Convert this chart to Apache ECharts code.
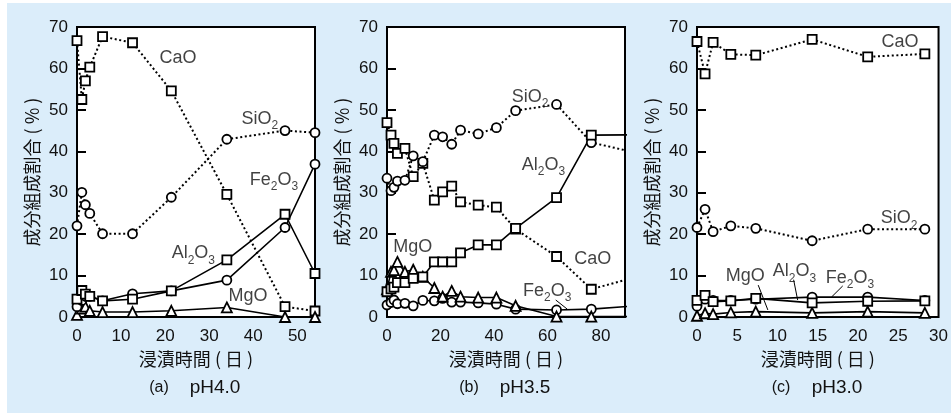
<!DOCTYPE html>
<html>
<head>
<meta charset="utf-8">
<script src="https://cdn.jsdelivr.net/npm/echarts@6/dist/echarts.min.js"></script>
<style>
  html, body { margin: 0; padding: 0; background: #ffffff; }
  #bg { position: absolute; left: 7px; top: 3px; width: 944px; height: 410px; background: #dbedfa; }
  #chart { position: absolute; left: 0; top: 0; width: 951px; height: 413px; }
</style>
</head>
<body>
<div id="bg"></div>
<div id="chart"></div>
<script>
// ---- (a) pH4.0 ----
const daysA  = [0, 1.1, 1.9, 2.9, 5.8, 12.6, 21.4, 34.0, 47.2, 54];
const caoA   = [66.7, 52.5, 57.0, 60.3, 67.7, 66.2, 54.6, 29.6, 2.5, 1.45];
const sio2A  = [22.0, 30.1, 27.1, 25.0, 20.1, 20.1, 28.9, 42.9, 45.0, 44.5];
const fe2o3A = [2.5, 4.0, 5.0, 5.0, 3.9, 5.6, 6.3, 8.9, 21.6, 36.9];
const al2o3A = [4.3, 6.4, 5.5, 5.0, 3.9, 4.3, 6.3, 13.8, 24.8, 10.5];
const mgoA   = [0.5, 2.0, 2.5, 1.5, 1.2, 1.2, 1.5, 2.3, 0, 0];

// ---- (b) pH3.5 ----
const daysB  = [0, 1.5, 2.6, 3.9, 6.7, 9.8, 13.4, 17.7, 20.8, 24.2, 27.5, 34.1, 40.9, 48.1, 63.4, 76.4, 95];
const caoB   = [46.9, 43.9, 41.9, 39.5, 40.7, 33.9, 37.1, 28.2, 30.2, 31.6, 27.8, 27.0, 26.5, 21.2, 14.6, 6.7, 10.0];
const sio2B  = [33.5, 30.5, 31.3, 32.8, 33.0, 38.9, 37.5, 43.9, 43.5, 41.7, 45.1, 44.2, 45.7, 49.8, 51.3, 42.1, 39.4];
const al2o3B = [6.1, 6.8, 7.2, 8.3, 8.3, 9.3, 9.7, 13.3, 13.3, 13.3, 15.5, 17.4, 17.4, 21.4, 28.8, 43.9, 44.0];
const mgoB   = [6.7, 10.9, 11.3, 13.3, 10.9, 11.4, 9.7, 7.0, 4.9, 6.3, 4.9, 4.7, 4.7, 2.7, 0.1, 0.1, 0.1];
const fe2o3B = [2.9, 3.5, 4.1, 3.2, 3.3, 2.7, 4.0, 3.9, 4.5, 3.6, 3.6, 3.4, 3.1, 1.9, 1.7, 1.9, 2.8];

// ---- (c) pH3.0 ----
const daysC  = [0, 1, 2, 4.2, 7.3, 14.3, 21.2, 28.3];
const caoC   = [66.5, 58.7, 66.3, 63.4, 63.2, 67.0, 62.8, 63.5];
const sio2C  = [21.6, 26.0, 20.6, 22.0, 21.4, 18.4, 21.2, 21.2];
const al2o3C = [4.0, 5.2, 3.7, 3.9, 4.5, 3.4, 3.8, 3.9];
const fe2o3C = [2.6, 4.3, 4.0, 4.0, 4.3, 4.8, 4.8, 4.0];
const mgoC   = [0.3, 0.9, 0.7, 1.1, 1.3, 1.0, 1.3, 1.0];

// axis extents and ticks
const xMax = [54, 89, 30];
const xStep = [10, 20, 5];
const yTicks = [0, 10, 20, 30, 40, 50, 60, 70];
const captions = [['(a)', 'pH4.0'], ['(b)', 'pH3.5'], ['(c)', 'pH3.0']];

const FONT = "'Liberation Sans','Noto Sans CJK JP',sans-serif";
const CJK = "'Noto Sans CJK JP','Liberation Sans',sans-serif";

const grids = [
  { left: 77, top: 27, width: 238, height: 290 },
  { left: 387, top: 27, width: 238, height: 290 },
  { left: 697, top: 27, width: 242, height: 290 }
];

function pairs(days, vals) { return days.map((d, i) => [d, vals[i]]); }

const DOTTED = [2, 2.6];
function curve(g, days, vals, symbol, dotted) {
  return {
    type: 'line', xAxisIndex: g, yAxisIndex: g,
    data: pairs(days, vals),
    symbol: symbol,
    symbolSize: symbol === 'triangle' ? 10 : 9,
    showAllSymbol: true,
    clip: true,
    lineStyle: { color: '#000', width: dotted ? 2 : 1.6, type: dotted ? DOTTED : 'solid', cap: 'butt' },
    itemStyle: { color: '#fff', borderColor: '#000', borderWidth: 1.8 },
    emphasis: { disabled: true },
    animation: false
  };
}

// chemical formula labels with subscripts
const RICH = {
  n: { fontSize: 18, lineHeight: 22, fontFamily: FONT, color: '#111' },
  s: { fontSize: 12, lineHeight: 22, fontFamily: FONT, color: '#111', verticalAlign: 'bottom', padding: [0, 0, -2, 0] }
};
function formula(t) {
  return t.replace(/([A-Za-z]+)/g, '{n|$1}').replace(/(\d)/g, '{s|$1}');
}
const tags = [
  // panel, text, [x, y] in data units
  [0, 'CaO', [22.9, 62.4]], [0, 'SiO2', [41.5, 47.8]], [0, 'Fe2O3', [44.7, 33.1]],
  [0, 'Al2O3', [26.4, 15.4]], [0, 'MgO', [38.8, 5.1]],
  [1, 'MgO', [9.6, 16.8]], [1, 'Fe2O3', [59.9, 6.3]], [1, 'CaO', [76.9, 14.0]],
  [1, 'SiO2', [53.5, 53.2]], [1, 'Al2O3', [58.5, 36.7]],
  [2, 'CaO', [25.2, 66.4]], [2, 'SiO2', [25.1, 23.8]], [2, 'MgO', [6.0, 9.8]],
  [2, 'Al2O3', [12.1, 11.0]], [2, 'Fe2O3', [19.0, 9.4]]
];
const leaders = [
  [1, [63.1, 4.1], [67.4, 1.9]],
  [2, [7.6, 7.7], [8.8, 1.7]],
  [2, [12.0, 9.0], [12.5, 4.1]],
  [2, [18.1, 7.5], [16.7, 4.8]]
];

const series = [
  curve(0, daysA, caoA, 'rect', true),
  curve(0, daysA, sio2A, 'circle', true),
  curve(0, daysA, mgoA, 'triangle', false),
  curve(0, daysA, fe2o3A, 'circle', false),
  curve(0, daysA, al2o3A, 'rect', false),
  curve(1, daysB, caoB, 'rect', true),
  curve(1, daysB, sio2B, 'circle', true),
  curve(1, daysB, fe2o3B, 'circle', false),
  curve(1, daysB, mgoB, 'triangle', false),
  curve(1, daysB, al2o3B, 'rect', false),
  curve(2, daysC, caoC, 'rect', true),
  curve(2, daysC, sio2C, 'circle', true),
  curve(2, daysC, mgoC, 'triangle', false),
  curve(2, daysC, fe2o3C, 'circle', false),
  curve(2, daysC, al2o3C, 'rect', false)
];

leaders.forEach(([g, p, q]) => {
  series.push({
    type: 'line', xAxisIndex: g, yAxisIndex: g, data: [p, q], symbol: 'none',
    lineStyle: { color: '#000', width: 1 }, silent: true, animation: false
  });
});

[0, 1, 2].forEach(g => {
  series.push({
    type: 'scatter', xAxisIndex: g, yAxisIndex: g, symbolSize: 1, silent: true, animation: false,
    itemStyle: { color: 'rgba(0,0,0,0)' },
    data: tags.filter(t => t[0] === g).map(t => ({ value: t[2], name: t[1] })),
    label: {
      show: true, position: 'inside',
      formatter: p => formula(p.name),
      rich: RICH
    },
    z: 5
  });
});

const xAxes = grids.map((_, g) => ({
  type: 'value', gridIndex: g, min: 0, max: xMax[g], interval: xStep[g],
  name: '浸漬時間 ( 日 )', nameLocation: 'middle', nameGap: 30,
  nameTextStyle: { fontSize: 18, fontFamily: CJK, color: '#111' },
  axisLine: { show: false }, axisTick: { show: false }, splitLine: { show: false },
  axisLabel: { fontSize: 17, fontFamily: FONT, color: '#111', margin: 11, showMaxLabel: g === 2 }
}));
const yAxes = grids.map((_, g) => ({
  type: 'value', gridIndex: g, min: yTicks[0], max: yTicks[yTicks.length - 1], interval: 10,
  name: '成分組成割合 ( % )', nameLocation: 'middle', nameRotate: 90, nameGap: 36,
  nameTextStyle: { fontSize: 18, fontFamily: CJK, color: '#111' },
  axisLine: { show: false },
  axisTick: { show: true, inside: true, length: 9, lineStyle: { color: '#000', width: 2 } },
  splitLine: { show: false },
  axisLabel: { fontSize: 17, fontFamily: FONT, color: '#111', margin: 9 }
}));

// panel captions below each x-axis title
const graphic = [];
grids.forEach((gr, g) => {
  const cx = gr.left + gr.width / 2;
  graphic.push({
    type: 'text', x: cx - 37, y: 388,
    style: { text: captions[g][0], font: '16px "Liberation Sans", sans-serif', fill: '#111', align: 'center', verticalAlign: 'middle' }
  });
  graphic.push({
    type: 'text', x: cx + 19, y: 388,
    style: { text: captions[g][1], font: '19px "Liberation Sans", sans-serif', fill: '#111', align: 'center', verticalAlign: 'middle' }
  });
});

const chart = echarts.init(document.getElementById('chart'), null, { renderer: 'canvas' });
chart.setOption({
  backgroundColor: 'transparent',
  animation: false,
  grid: grids.map(gr => Object.assign({ show: true, backgroundColor: '#fff', borderColor: '#000', borderWidth: 2 }, gr)),
  xAxis: xAxes,
  yAxis: yAxes,
  series: series,
  graphic: graphic
});
</script>
</body>
</html>
